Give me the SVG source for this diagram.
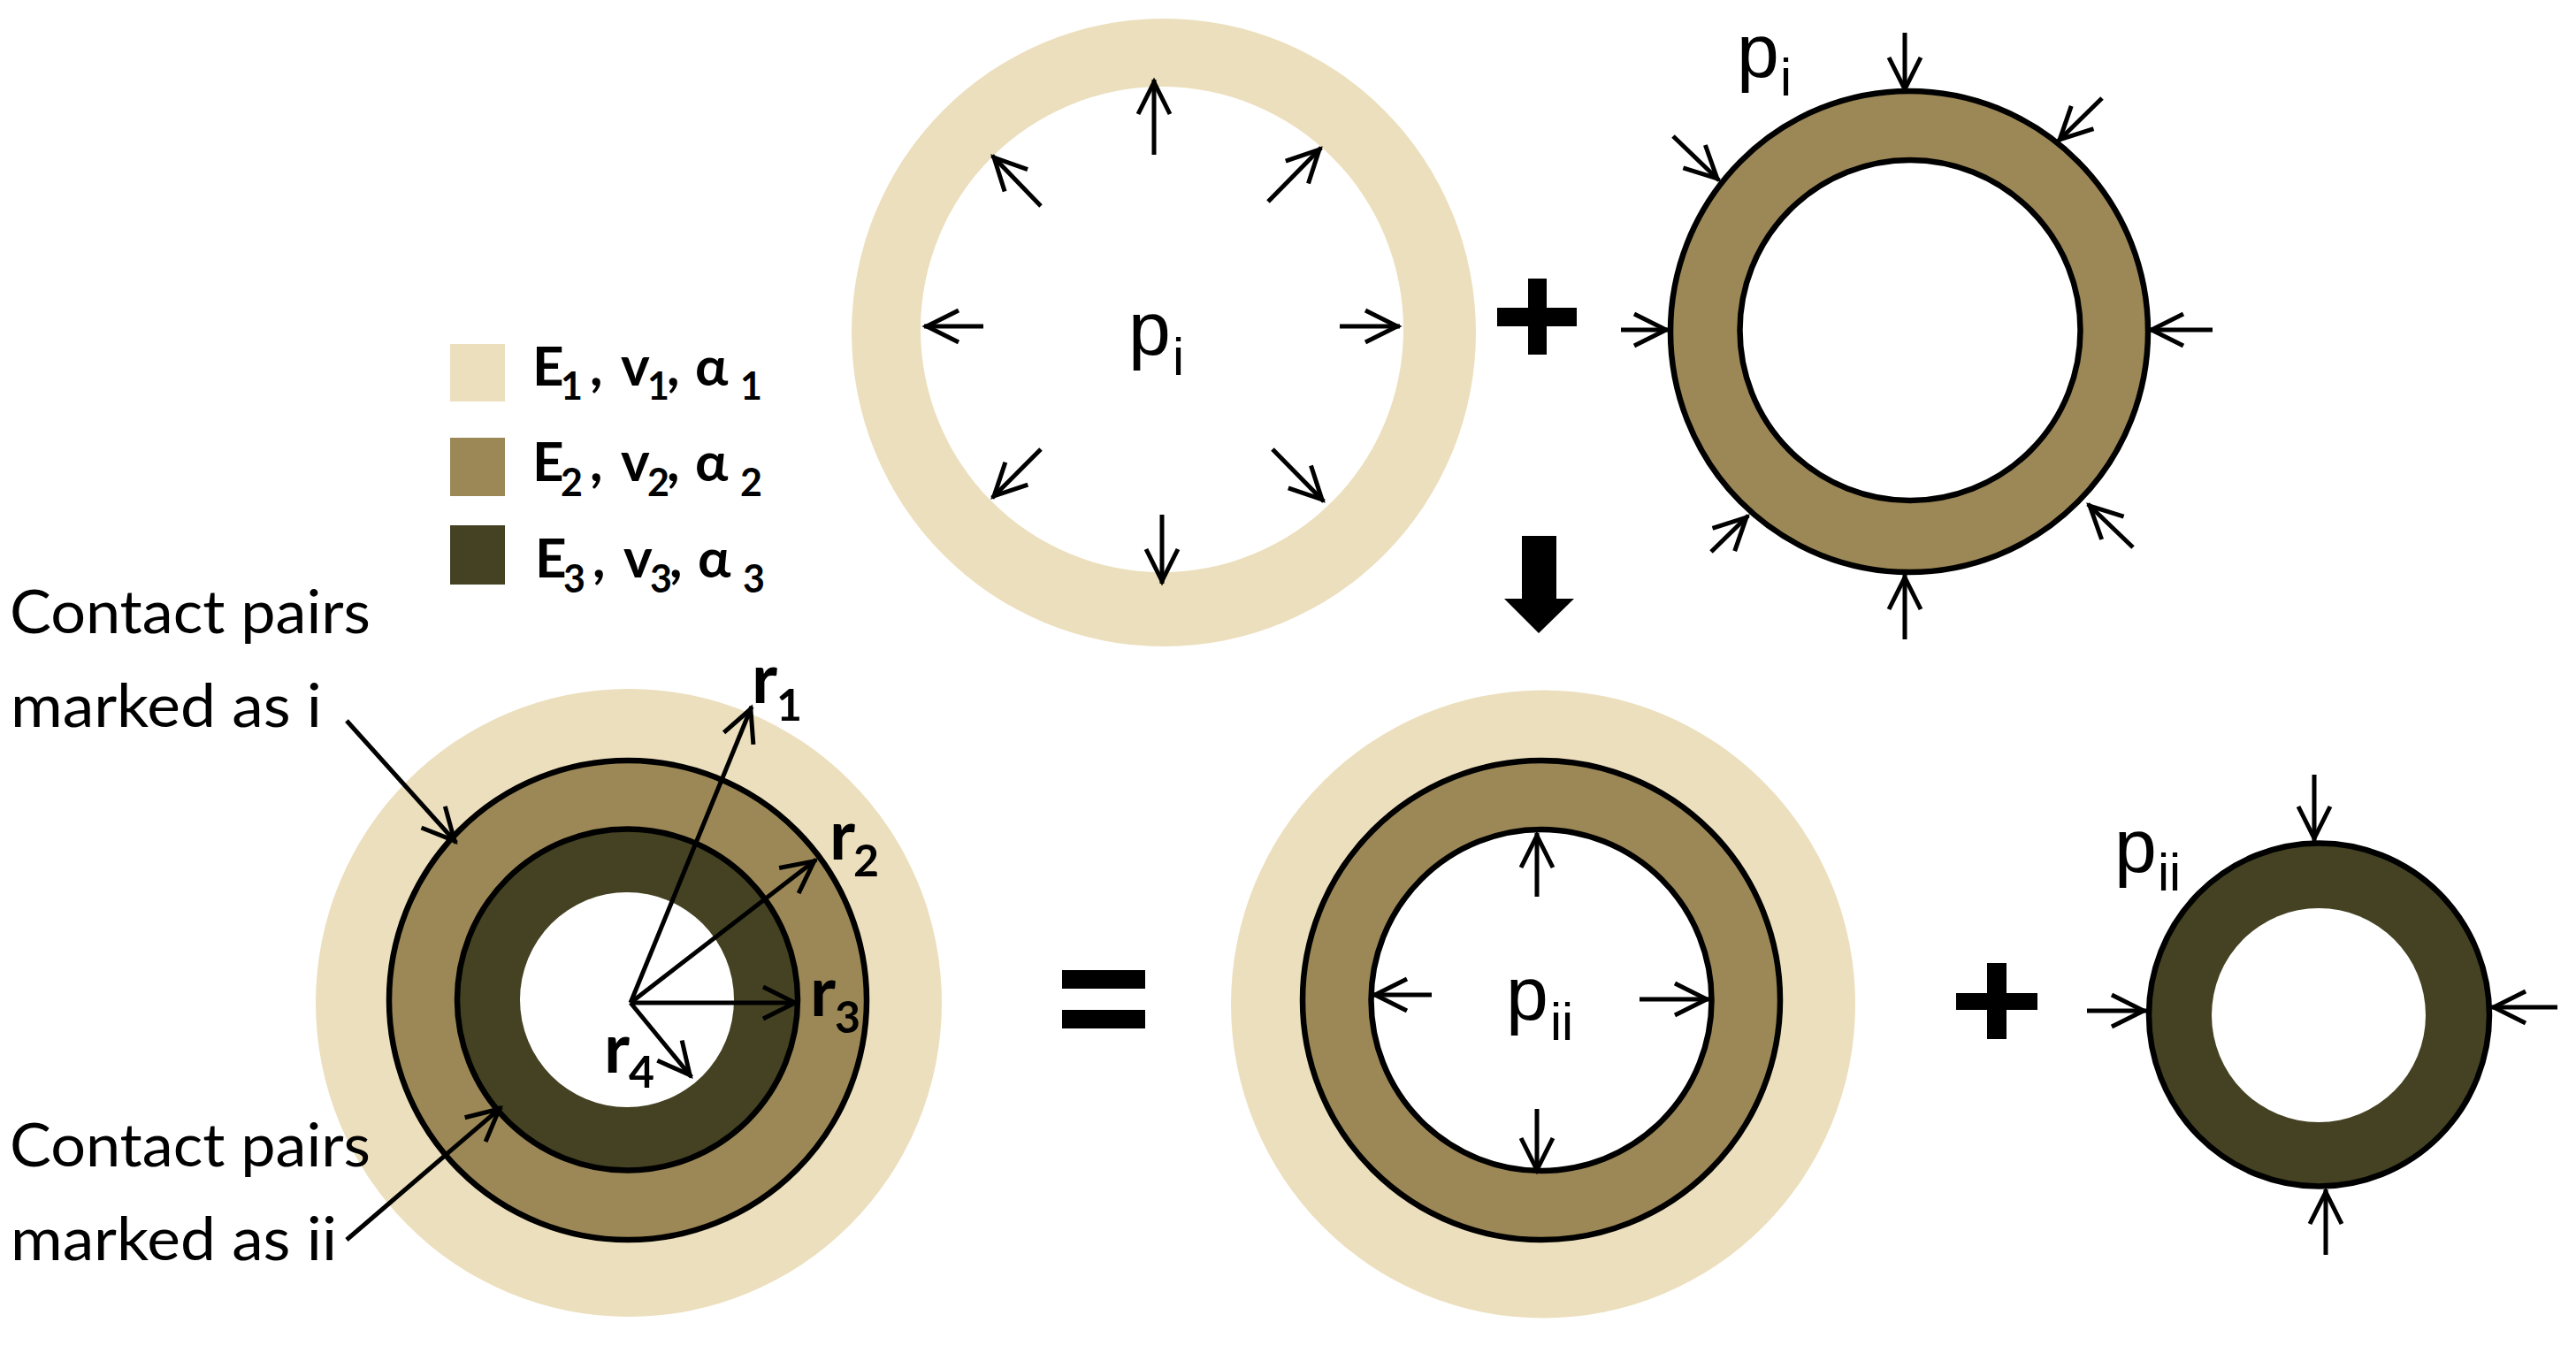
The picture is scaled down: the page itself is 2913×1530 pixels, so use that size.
<svg xmlns="http://www.w3.org/2000/svg" width="2913" height="1530" viewBox="0 0 2913 1530">
<style>
.c1{fill:#ecdfbd}.c2{fill:#9c8856}.c3{fill:#444222}.h{fill:#fff}
.s{stroke:#000;stroke-width:6.5}
.k{fill:#000}
.a line{stroke:#000;stroke-width:5;fill:none;marker-end:url(#v)}
.p{font-family:"Liberation Sans",Arial,sans-serif;font-size:86px;fill:#000}
.sub{font-size:59px}
.b{font-family:Lato,"Open Sans",sans-serif;font-weight:700;fill:#000;font-size:62px}
.bs{font-size:43px}
.r{font-family:Lato,"Open Sans",sans-serif;font-weight:700;fill:#000;font-size:78px}
.rs{font-size:50px}
.l{font-family:Lato,"Open Sans",sans-serif;font-size:68px;fill:#000}
</style>
<defs>
<marker id="v" markerUnits="userSpaceOnUse" markerWidth="50" markerHeight="50" refX="43" refY="20" orient="auto" overflow="visible">
<path d="M4,2 L40,20 L4,38" fill="none" stroke="#000" stroke-width="5"/>
</marker>
</defs>
<rect width="2913" height="1530" fill="#fff"/>
<g id="ring-outer-top">
<ellipse class="c1" cx="1316" cy="376" rx="353" ry="355"/>
<ellipse class="h" cx="1314" cy="372.5" rx="273" ry="274.5"/>
<text class="p" x="1276" y="401">p<tspan class="sub" x="1326" y="424">i</tspan></text>
</g>
<g id="ring-middle-top">
<ellipse class="c2 s" cx="2159" cy="375" rx="270" ry="272"/>
<ellipse class="h s" cx="2160" cy="373.5" rx="192.5" ry="192.5"/>
<text class="p" x="1964" y="87">p<tspan class="sub" x="2013" y="108">i</tspan></text>
</g>
<g id="plus-top"><rect class="k" x="1728" y="315" width="21" height="86"/><rect class="k" x="1693" y="348" width="90" height="21"/></g>
<g id="arrow-down"><path class="k" d="M1721,606 H1760 V677 H1780 L1740,716 L1701,677 H1721 Z"/></g>
<g id="legend">
<rect class="c1" x="509" y="389" width="62" height="65"/>
<rect class="c2" x="509" y="495" width="62" height="66"/>
<rect class="c3" x="509" y="594" width="62" height="67"/>
<text class="b" x="602" y="436">E<tspan class="bs" x="634" y="452">1</tspan><tspan x="667" y="436">,</tspan><tspan x="702" y="436">v</tspan><tspan class="bs" x="732" y="452">1</tspan><tspan x="754" y="436">,</tspan><tspan x="786" y="436">α</tspan><tspan class="bs" x="837" y="452">1</tspan></text>
<text class="b" x="602" y="544">E<tspan class="bs" x="634" y="561">2</tspan><tspan x="667" y="544">,</tspan><tspan x="702" y="544">v</tspan><tspan class="bs" x="732" y="561">2</tspan><tspan x="754" y="544">,</tspan><tspan x="786" y="544">α</tspan><tspan class="bs" x="837" y="561">2</tspan></text>
<text class="b" x="605" y="653">E<tspan class="bs" x="637" y="670">3</tspan><tspan x="670" y="653">,</tspan><tspan x="705" y="653">v</tspan><tspan class="bs" x="735" y="670">3</tspan><tspan x="757" y="653">,</tspan><tspan x="789" y="653">α</tspan><tspan class="bs" x="840" y="670">3</tspan></text>
</g>
<g id="composite-left">
<ellipse class="c1" cx="711" cy="1134" rx="354" ry="355"/>
<ellipse class="c2 s" cx="710" cy="1131" rx="270" ry="271"/>
<ellipse class="c3 s" cx="709.5" cy="1130.5" rx="192.5" ry="193"/>
<ellipse class="h" cx="709" cy="1130.5" rx="121" ry="121.5"/>
<text class="r" x="850" y="795">r<tspan class="rs" x="878" y="815">1</tspan></text>
<text class="r" x="938" y="972">r<tspan class="rs" x="965" y="991">2</tspan></text>
<text class="r" x="916" y="1149">r<tspan class="rs" x="944" y="1168">3</tspan></text>
<text class="r" x="683" y="1213">r<tspan class="rs" x="711" y="1230">4</tspan></text>
</g>
<g id="equals"><rect class="k" x="1201" y="1097" width="94" height="21"/><rect class="k" x="1201" y="1142" width="94" height="21"/></g>
<g id="composite-right">
<ellipse class="c1" cx="1745" cy="1135.5" rx="353" ry="355"/>
<ellipse class="c2 s" cx="1743" cy="1131" rx="270" ry="271"/>
<ellipse class="h s" cx="1743" cy="1131" rx="192.5" ry="193"/>
<text class="p" x="1703" y="1153">p<tspan class="sub" x="1753" y="1176">ii</tspan></text>
</g>
<g id="plus-bottom"><rect class="k" x="2247" y="1089" width="22" height="86"/><rect class="k" x="2212" y="1123" width="92" height="19"/></g>
<g id="ring-inner">
<ellipse class="c3 s" cx="2622.5" cy="1147.5" rx="192.5" ry="194"/>
<ellipse class="h" cx="2622" cy="1148" rx="121" ry="121"/>
<text class="p" x="2391" y="986">p<tspan class="sub" x="2440" y="1007">ii</tspan></text>
</g>
<g id="labels">
<text class="l" x="11" y="716" textLength="408" lengthAdjust="spacingAndGlyphs">Contact pairs</text>
<text class="l" x="12" y="822" textLength="352" lengthAdjust="spacingAndGlyphs">marked as i</text>
<text class="l" x="11" y="1319" textLength="408" lengthAdjust="spacingAndGlyphs">Contact pairs</text>
<text class="l" x="12" y="1425" textLength="369" lengthAdjust="spacingAndGlyphs">marked as ii</text>
</g>
<g id="connectors" class="a">
<line x1="1305" y1="175" x2="1305" y2="90"/>
<line x1="1434" y1="228" x2="1494" y2="167"/>
<line x1="1515" y1="369" x2="1583" y2="369"/>
<line x1="1439" y1="508" x2="1497" y2="567"/>
<line x1="1314" y1="582" x2="1314" y2="660"/>
<line x1="1177" y1="508" x2="1122" y2="563"/>
<line x1="1112" y1="369" x2="1045" y2="369"/>
<line x1="1177" y1="233" x2="1122" y2="176"/>
<line x1="2154" y1="37" x2="2154" y2="104"/>
<line x1="2377" y1="111" x2="2327" y2="160"/>
<line x1="2502" y1="373" x2="2430" y2="373"/>
<line x1="2412" y1="619" x2="2361" y2="570"/>
<line x1="2154" y1="723" x2="2154" y2="650"/>
<line x1="1935" y1="624" x2="1977" y2="583"/>
<line x1="1833" y1="373" x2="1887" y2="373"/>
<line x1="1892" y1="154" x2="1944" y2="204"/>
<line x1="713" y1="1134" x2="850" y2="799"/>
<line x1="713" y1="1134" x2="923" y2="972"/>
<line x1="713" y1="1134" x2="902" y2="1134"/>
<line x1="713" y1="1134" x2="782" y2="1218"/>
<line x1="392" y1="815" x2="516" y2="953"/>
<line x1="392" y1="1402" x2="567" y2="1252"/>
<line x1="1738" y1="1014" x2="1738" y2="942"/>
<line x1="1738" y1="1254" x2="1738" y2="1326"/>
<line x1="1619" y1="1125" x2="1552" y2="1125"/>
<line x1="1854" y1="1130" x2="1933" y2="1130"/>
<line x1="2617" y1="876" x2="2617" y2="951"/>
<line x1="2630" y1="1419" x2="2630" y2="1345"/>
<line x1="2360" y1="1143" x2="2427" y2="1143"/>
<line x1="2892" y1="1139" x2="2817" y2="1139"/>
</g>
</svg>
